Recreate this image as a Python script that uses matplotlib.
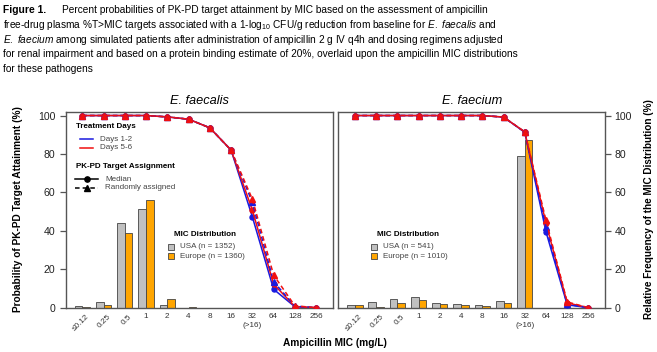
import matplotlib
matplotlib.use('Agg')
import matplotlib.pyplot as plt
from matplotlib.lines import Line2D
from matplotlib.patches import Rectangle
import numpy as np

plt.rcParams['font.family'] = ['Liberation Sans', 'DejaVu Sans']
plt.rcParams['mathtext.fontset'] = 'custom'
plt.rcParams['mathtext.rm'] = 'Liberation Sans'
plt.rcParams['mathtext.it'] = 'Liberation Sans:italic'
plt.rcParams['mathtext.bf'] = 'Liberation Sans:bold'

# ---------------- data ----------------
mic_labels = ['≤0.12', '0.25', '0.5', '1', '2', '4', '8', '16', '32\n(>16)', '64', '128', '256']

# E. faecalis
faecalis_usa = [1.0, 3.1, 44.2, 51.3, 1.2, 0.0, 0, 0, 0, 0, 0, 0]
faecalis_eur = [0.5, 1.6, 38.7, 55.8, 4.4, 0.3, 0, 0, 0, 0, 0, 0]
faecalis_d12_median = [100, 100, 100, 100, 99.3, 98.1, 93.6, 82.0, 47.3, 9.6, 0.5, 0.0]
faecalis_d12_random = [100, 100, 100, 100, 99.3, 98.1, 93.6, 82.0, 54.8, 13.6, 0.8, 0.0]
faecalis_d56_median = [100, 100, 100, 100, 99.3, 98.1, 93.6, 82.0, 50.8, 12.3, 0.6, 0.0]
faecalis_d56_random = [100, 100, 100, 100, 99.3, 98.1, 93.6, 82.0, 56.5, 17.0, 1.0, 0.0]

# E. faecium
faecium_usa = [1.6, 2.8, 4.7, 5.4, 2.6, 1.9, 1.3, 3.6, 78.9, 0, 0, 0]
faecium_eur = [1.2, 0.5, 2.6, 4.0, 1.9, 1.3, 0.9, 2.4, 87.2, 0, 0, 0]
faecium_d12_median = [100, 100, 100, 100, 100, 100, 100, 99.2, 91.3, 39.5, 1.5, 0.0]
faecium_d12_random = [100, 100, 100, 100, 100, 100, 100, 99.2, 91.4, 41.8, 1.8, 0.0]
faecium_d56_median = [100, 100, 100, 100, 100, 100, 100, 99.2, 91.5, 44.0, 2.5, 0.0]
faecium_d56_random = [100, 100, 100, 100, 100, 100, 100, 99.2, 91.5, 45.5, 3.0, 0.0]

usa_n = [1352, 541]
eur_n = [1360, 1010]

# ---------------- styling ----------------
W, H = 657, 352
BLUE = '#1a1adf'
RED = '#f01010'
GRAY = '#c0c0c0'
ORANGE = '#ffa500'
SPINE = '#555555'

fig = plt.figure(figsize=(W / 100, H / 100), dpi=100)


def px(x, y):
    return x / W, 1 - y / H


def add_axes(l, t, r, b):
    return fig.add_axes([l / W, 1 - b / H, (r - l) / W, (b - t) / H])


axL = add_axes(65.7, 111.7, 332.7, 307.7)
axR = add_axes(338.3, 111.7, 605.0, 307.7)

x = np.arange(len(mic_labels))


def panel(ax, usa, eur, d12m, d12r, d56m, d56r, side):
    ax.bar(x - 0.18, usa, 0.36, color=GRAY, edgecolor='#444444', linewidth=0.6, zorder=2)
    ax.bar(x + 0.18, eur, 0.36, color=ORANGE, edgecolor='#444444', linewidth=0.6, zorder=2)
    ax.plot(x, d12m, color=BLUE, lw=1.1, marker='o', ms=3.6, zorder=3)
    ax.plot(x, d56m, color=RED, lw=1.1, marker='o', ms=3.6, zorder=4)
    ax.plot(x, d12r, color=BLUE, lw=1.1, ls=(0, (3, 2)), marker='^', ms=4.8, zorder=5)
    ax.plot(x, d56r, color=RED, lw=1.1, ls=(0, (3, 2)), marker='^', ms=4.8, zorder=6)
    ax.set_xlim(-0.78, 11.78)
    ax.set_ylim(0, 102)
    for s in ax.spines.values():
        s.set_color(SPINE)
        s.set_linewidth(1.0)
    ax.set_yticks([0, 20, 40, 60, 80, 100])
    ax.set_xticks([])
    if side == 'left':
        ax.tick_params(axis='y', left=True, right=False, labelleft=True, labelright=False,
                       length=4.3, width=0.9, color=SPINE, pad=3.2, labelsize=7.6, labelcolor='#222222')
    else:
        ax.tick_params(axis='y', left=False, right=True, labelleft=False, labelright=True,
                       length=4.3, width=0.9, color=SPINE, pad=2.6, labelsize=7.6, labelcolor='#222222')
    # category labels
    for i, lab in enumerate(mic_labels):
        if i < 3:
            ax.text(i + 0.18, -3.0, lab, rotation=45, rotation_mode='anchor',
                    ha='right', va='top', fontsize=5.9, color='#333333', clip_on=False)
        else:
            ax.text(i, -2.8, lab, ha='center', va='top', fontsize=5.9, color='#333333',
                    linespacing=1.45, clip_on=False)


panel(axL, faecalis_usa, faecalis_eur, faecalis_d12_median, faecalis_d12_random,
      faecalis_d56_median, faecalis_d56_random, 'left')
panel(axR, faecium_usa, faecium_eur, faecium_d12_median, faecium_d12_random,
      faecium_d56_median, faecium_d56_random, 'right')

# panel titles
fig.text(*px(199, 101), 'E. faecalis', style='italic', fontsize=9.2, ha='center', va='center')
fig.text(*px(472, 101), 'E. faecium', style='italic', fontsize=9.2, ha='center', va='center')

# axis labels
fig.text(*px(18, 209), 'Probability of PK-PD Target Attainment (%)', rotation=90,
         fontsize=7.3, fontweight='bold', ha='center', va='center')
fig.text(*px(649, 209), 'Relative Frequency of the MIC Distribution (%)', rotation=90,
         fontsize=7.2, fontweight='bold', ha='center', va='center')
fig.text(*px(335, 342.5), 'Ampicillin MIC (mg/L)', fontsize=7.3, fontweight='bold',
         ha='center', va='center')

# caption
cap_fs = 7.25
fig.text(*px(3, 13), 'Figure 1.', fontsize=cap_fs + 0.1, fontweight='bold', ha='left', va='baseline')
cap_lines = [
    (62, 13, 'Percent probabilities of PK-PD target attainment by MIC based on the assessment of ampicillin'),
    (3, 28, r'free-drug plasma %T>MIC targets associated with a 1-log$_{10}$ CFU/g reduction from baseline for $\mathit{E.\ faecalis}$ and'),
    (3, 42.6, r'$\mathit{E.\ faecium}$ among simulated patients after administration of ampicillin 2 g IV q4h and dosing regimens adjusted'),
    (3, 57, 'for renal impairment and based on a protein binding estimate of 20%, overlaid upon the ampicillin MIC distributions'),
    (3, 72, 'for these pathogens'),
]
for cx, cy, t in cap_lines:
    fig.text(*px(cx, cy), t, fontsize=cap_fs, ha='left', va='baseline')

# legend: treatment days / target assignment (left panel)
lfs = 5.8
fig.text(*px(76, 126), 'Treatment Days', fontsize=lfs, fontweight='bold', ha='left', va='center')
for yy, col, lab in [(139.3, BLUE, 'Days 1-2'), (147.8, RED, 'Days 5-6')]:
    fig.add_artist(Line2D([80 / W, 93 / W], [1 - yy / H] * 2, color=col, lw=1.1,
                          transform=fig.transFigure))
    fig.text(*px(100, yy), lab, fontsize=lfs, color='#444444', ha='left', va='center')
fig.text(*px(76.5, 166), 'PK-PD Target Assignment', fontsize=lfs, fontweight='bold',
         ha='left', va='center')
for yy, ls, mk, lab in [(179.3, '-', 'o', 'Median'), (187.6, (0, (3, 2)), '^', 'Randomly assigned')]:
    fig.add_artist(Line2D([75 / W, 98 / W], [1 - yy / H] * 2, color='black', lw=1.1, ls=ls,
                          transform=fig.transFigure))
    fig.add_artist(Line2D([86.5 / W], [1 - yy / H], color='black', marker=mk, ms=3.8,
                          transform=fig.transFigure))
    fig.text(*px(105, yy), lab, fontsize=lfs, color='#444444', ha='left', va='center')

# legend: MIC distribution (both panels)
for lx, n_u, n_e in [(174, usa_n[0], eur_n[0]), (377, usa_n[1], eur_n[1])]:
    fig.text(*px(lx, 235), 'MIC Distribution', fontsize=lfs, fontweight='bold', ha='left', va='center')
    for yy, col, lab in [(246.7, GRAY, f'USA (n = {n_u})'), (256, ORANGE, f'Europe (n = {n_e})')]:
        sx = lx - 6
        fig.add_artist(Rectangle((sx / W, 1 - (yy + 2.8) / H), 5.6 / W, 5.6 / H,
                                 facecolor=col, edgecolor='#444444', lw=0.6,
                                 transform=fig.transFigure))
        fig.text(*px(lx + 6, yy), lab, fontsize=lfs, color='#444444', ha='left', va='center')

fig.savefig('out.png', dpi=100)
